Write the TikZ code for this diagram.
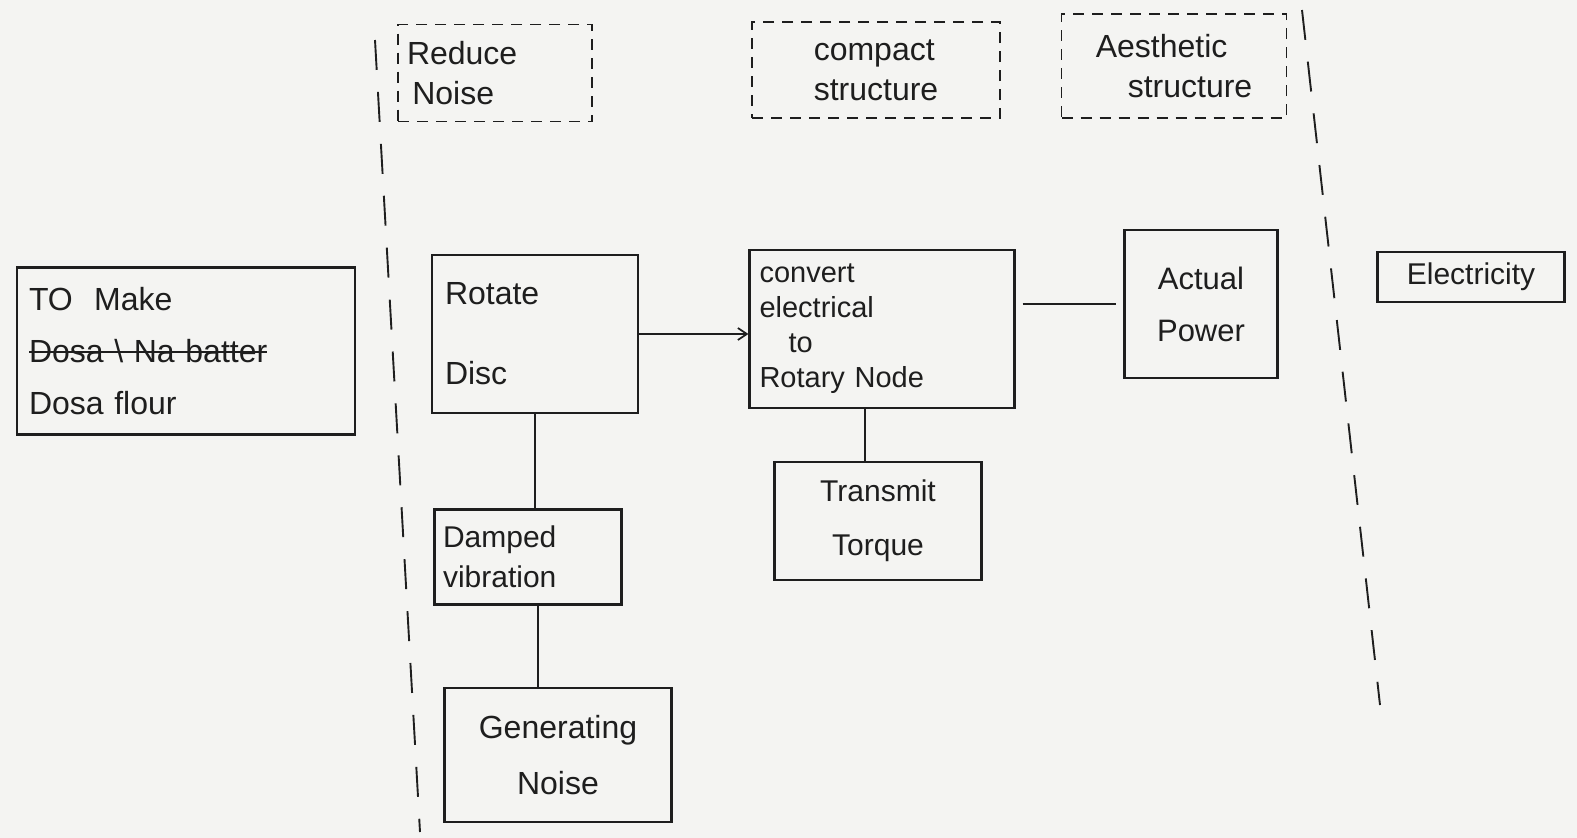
\documentclass[tikz,border=0pt]{standalone}
\usepackage{fontspec}
\setmainfont{Liberation Sans}
\usetikzlibrary{arrows.meta}
\definecolor{ink}{HTML}{1E1E1E}
\definecolor{paper}{HTML}{F4F4F2}
% crossed-out word run
\newsavebox{\strikebox}
\newcommand{\crossout}[1]{\sbox{\strikebox}{#1}\leavevmode\rlap{\rule[0.3em]{\wd\strikebox}{2pt}}\usebox{\strikebox}}
\begin{document}
\begin{tikzpicture}[x=1pt,y=-1pt,
  ink/.style={draw=ink, text=ink},
  box/.style={ink, line width=2.2pt, align=left, inner sep=10pt,
    font=\fontsize{32}{42}\selectfont},
  dbox/.style={ink, line width=1.7pt, dash pattern=on 11pt off 8pt,
    align=left, inner sep=8pt, font=\fontsize{32}{40}\selectfont},
  link/.style={draw=ink, line width=1.7pt},
  divider/.style={draw=ink, line width=1.9pt, dash pattern=on 30pt off 22pt}]
\useasboundingbox[fill=paper] (0,0) rectangle (1577,838);

% column dividers
\coordinate (l1t) at (375,40);
\coordinate (l1b) at (420,832);
\coordinate (l2t) at (1302,10);
\coordinate (l2b) at (1380,705);
\draw[divider] (l1t) -- (l1b);
\draw[divider] (l2t) -- (l2b);

% goals
\node[dbox, minimum width=194pt, minimum height=97pt, text width=176pt] (reduce) at (495,73) {Reduce\\ \,Noise};
\node[dbox, minimum width=248pt, minimum height=96pt] (compact) at (876,70) {compact\\ structure};
\node[dbox, minimum width=225pt, minimum height=104pt] (aesth) at (1174,66) {Aesthetic\\ \quad structure};

% function blocks
\node[box, minimum width=338pt, minimum height=167pt, text width=314pt,
  font=\fontsize{32}{52}\selectfont] (make) at (186,351)
  {TO \ Make\\ \crossout{Dosa \textbackslash\ Na batter}\\ Dosa flour};
\node[box, minimum width=206pt, minimum height=158pt, text width=180pt,
  font=\fontsize{32}{80}\selectfont] (rotate) at (535,334) {Rotate\\ Disc};
\node[box, minimum width=265pt, minimum height=158pt, text width=245pt,
  font=\fontsize{29}{35}\selectfont] (convert) at (882,329)
  {convert\\ electrical\\ \quad to\\ Rotary Node};
\node[box, minimum width=153pt, minimum height=148pt, align=center,
  font=\fontsize{31}{52}\selectfont] (power) at (1201,304) {Actual\\ Power};
\node[box, minimum width=187pt, minimum height=50pt, inner sep=4pt,
  font=\fontsize{30}{34}\selectfont] (elec) at (1471,277) {Electricity};
\node[box, minimum width=187pt, minimum height=95pt, text width=170pt,
  inner sep=6pt, font=\fontsize{30}{40}\selectfont] (damped) at (528,557) {Damped\\ vibration};
\node[box, minimum width=207pt, minimum height=118pt, align=center,
  font=\fontsize{30}{54}\selectfont] (torque) at (878,521) {Transmit\\ Torque};
\node[box, minimum width=227pt, minimum height=134pt, align=center,
  font=\fontsize{32}{56}\selectfont] (noise) at (558,755) {Generating\\ Noise};

% connectors
\draw[link, -{Straight Barb[length=9pt, width=12pt]}] (rotate.east) -- (rotate.east -| convert.west);
\draw[link, shorten <=7pt, shorten >=7pt] (convert.east |- power.west) -- (power.west);
\draw[link] (rotate.south) -- (rotate.south |- damped.north);
\draw[link] ([xshift=10pt]damped.south) -- ([xshift=10pt]damped.south |- noise.north);
\draw[link] ([xshift=-17pt]convert.south) -- ([xshift=-17pt]convert.south |- torque.north);
\end{tikzpicture}
\end{document}
